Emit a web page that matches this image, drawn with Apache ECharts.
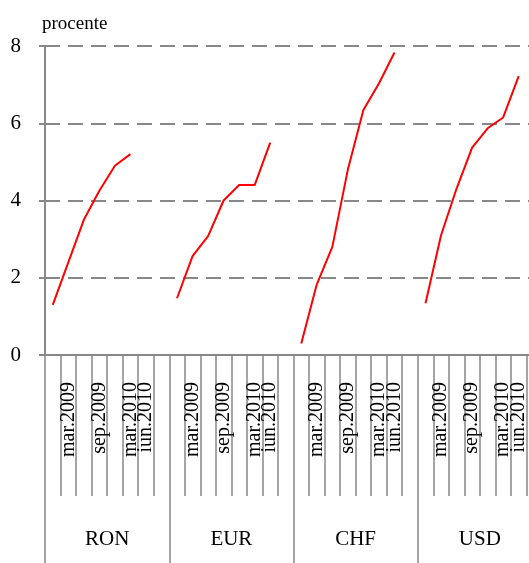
<!DOCTYPE html>
<html>
<head>
<meta charset="utf-8">
<script src="https://cdn.jsdelivr.net/npm/echarts@6/dist/echarts.min.js"></script>
<style>
  html, body { margin: 0; padding: 0; overflow: hidden; background: #fff; }
  #chart { width: 542px; height: 563px; }
</style>
</head>
<body>
<div id="chart"></div>
<script>
// valute
const groups = ['RON', 'EUR', 'CHF', 'USD'];
// etichete pe axa (8 pozitii pe grupa, ultima goala)
const periodLabels = ['', 'mar.2009', '', 'sep.2009', '', 'mar.2010', 'iun.2010', ''];
// valori in procente
const ron = [1.3, 2.4, 3.5, 4.25, 4.9, 5.2, null];
const eur = [1.47, 2.56, 3.08, 4.0, 4.4, 4.4, 5.5];
const chf = [0.3, 1.83, 2.8, 4.8, 6.34, 7.03, 7.83];
const usd = [1.34, 3.1, 4.31, 5.37, 5.87, 6.15, 7.22];
const yTicks = [0, 2, 4, 6, 8];

const seriesByGroup = [ron, eur, chf, usd];
const cats = [];
const values = [];
groups.forEach((g, i) => {
  periodLabels.forEach((p, j) => {
    cats.push(g + '|' + j);
    values.push(j < seriesByGroup[i].length ? seriesByGroup[i][j] : null);
  });
});

const font = 'Liberation Serif, Times New Roman, serif';
const axisGray = '#888888';

const chart = echarts.init(document.getElementById('chart'));
chart.setOption({
  animation: false,
  title: {
    text: 'procente',
    left: 37,
    top: 10,
    textStyle: { fontFamily: font, fontSize: 19, fontWeight: 'normal', color: '#000' }
  },
  grid: { left: 45, right: 0, top: 46, bottom: 208 },
  xAxis: [
    {
      type: 'category',
      data: cats,
      position: 'bottom',
      boundaryGap: true,
      axisLine: { show: true, lineStyle: { color: axisGray, width: 2 } },
      axisTick: { show: true, interval: 0, length: 141, lineStyle: { color: axisGray, width: 1.5 } },
      axisLabel: {
        interval: 0,
        rotate: 90,
        margin: 27,
        fontFamily: font,
        fontSize: 20,
        color: '#000',
        formatter: (v) => periodLabels[Number(v.split('|')[1])]
      }
    },
    {
      type: 'category',
      data: groups,
      position: 'bottom',
      offset: 0,
      boundaryGap: true,
      axisLine: { show: false },
      axisTick: { show: true, interval: 0, length: 208, lineStyle: { color: axisGray, width: 1.5 } },
      axisLabel: { interval: 0, margin: 174, fontFamily: font, fontSize: 21, color: '#000' }
    }
  ],
  yAxis: {
    type: 'value',
    min: yTicks[0],
    max: yTicks[yTicks.length - 1],
    interval: 2,
    axisLine: { show: true, lineStyle: { color: axisGray, width: 2 } },
    axisTick: { show: true, length: 6, lineStyle: { color: axisGray, width: 2 } },
    axisLabel: { margin: 24, fontFamily: font, fontSize: 21, color: '#000' },
    splitLine: { lineStyle: { color: axisGray, width: 2, type: [15, 8] } }
  },
  series: [{
    type: 'line',
    xAxisIndex: 0,
    data: values,
    showSymbol: false,
    connectNulls: false,
    lineStyle: { color: '#ff0000', width: 2 },
    itemStyle: { color: '#ff0000' }
  }]
});
</script>
</body>
</html>
